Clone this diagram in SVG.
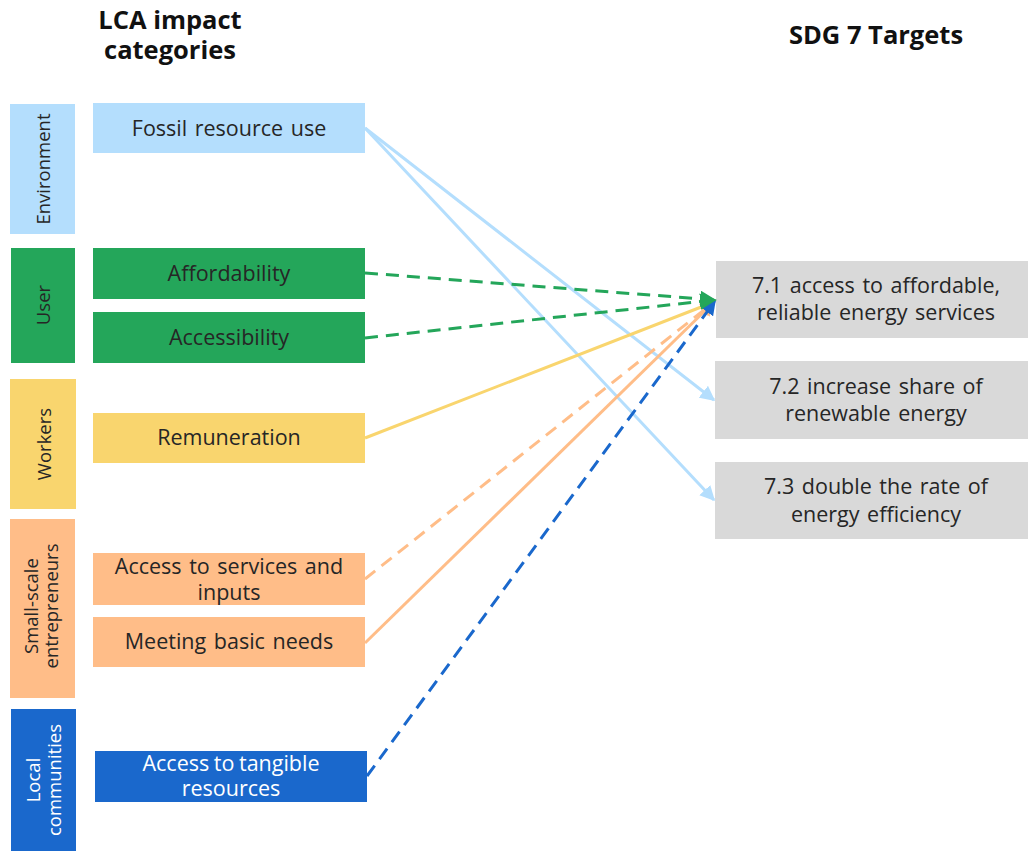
<svg xmlns="http://www.w3.org/2000/svg" width="1028" height="851" viewBox="0 0 1028 851">
  <defs>
    <style>
      text { font-family: "Open Sans", "Noto Sans", "Liberation Sans", sans-serif; fill: #262626; }
      .hdr { font-size: 25.5px; font-weight: bold; fill: #111; text-anchor: middle; }
      .lbl { font-size: 21.5px; word-spacing: 2px; text-anchor: middle; }
      .cat { font-size: 18.5px; text-anchor: middle; }
      .wht { fill: #ffffff; }
      .env { fill: #b4defd; }
      .usr { fill: #24a65a; }
      .wrk { fill: #f9d56e; }
      .sse { fill: #ffbd88; }
      .loc { fill: #1a68cc; }
      .tgt { fill: #d9d9d9; }
      .ln { fill: none; stroke-width: 3; }
      .dash { stroke-dasharray: 13 8; }
    </style>
    <marker id="ah-blue" viewBox="0 0 10 10" refX="9" refY="5" markerWidth="5" markerHeight="5" orient="auto" markerUnits="strokeWidth">
      <path d="M0,0 L10,5 L0,10 z" fill="#b4defd"/>
    </marker>
    <marker id="ah-green" viewBox="0 0 10 10" refX="9" refY="5" markerWidth="5.5" markerHeight="5.5" orient="auto" markerUnits="strokeWidth">
      <path d="M0,0 L10,5 L0,10 z" fill="#24a65a"/>
    </marker>
    <marker id="ah-yellow" viewBox="0 0 10 10" refX="9" refY="5" markerWidth="5" markerHeight="5" orient="auto" markerUnits="strokeWidth">
      <path d="M0,0 L10,5 L0,10 z" fill="#f9d56e"/>
    </marker>
    <marker id="ah-orange" viewBox="0 0 10 10" refX="9" refY="5" markerWidth="5" markerHeight="5" orient="auto" markerUnits="strokeWidth">
      <path d="M0,0 L10,5 L0,10 z" fill="#ffbd88"/>
    </marker>
    <marker id="ah-dblue" viewBox="0 0 10 10" refX="9" refY="5" markerWidth="5" markerHeight="5" orient="auto" markerUnits="strokeWidth">
      <path d="M0,0 L10,5 L0,10 z" fill="#1a68cc"/>
    </marker>
  </defs>

  <rect width="1028" height="851" fill="#ffffff"/>

  <!-- column headers -->
  <text class="hdr" x="170" y="29">LCA impact</text>
  <text class="hdr" x="170" y="59">categories</text>
  <text class="hdr" x="876" y="44">SDG 7 Targets</text>

  <!-- stakeholder categories -->
  <g id="cat-environment">
    <rect class="env" x="10" y="104" width="65" height="130"/>
    <text class="cat" transform="translate(50,169) rotate(-90)">Environment</text>
  </g>
  <g id="cat-user">
    <rect class="usr" x="11" y="248" width="64" height="115"/>
    <text class="cat" transform="translate(50,305) rotate(-90)">User</text>
  </g>
  <g id="cat-workers">
    <rect class="wrk" x="10" y="379" width="66" height="130"/>
    <text class="cat" transform="translate(51,444) rotate(-90)">Workers</text>
  </g>
  <g id="cat-entrepreneurs">
    <rect class="sse" x="10" y="519" width="65" height="179"/>
    <text class="cat" transform="translate(38,606) rotate(-90)">Small-scale</text>
    <text class="cat" transform="translate(58,606) rotate(-90)">entrepreneurs</text>
  </g>
  <g id="cat-communities">
    <rect class="loc" x="11" y="709" width="65" height="142"/>
    <text class="cat wht" transform="translate(40,780) rotate(-90)">Local</text>
    <text class="cat wht" transform="translate(61,780) rotate(-90)">communities</text>
  </g>

  <!-- impact categories -->
  <g id="imp-fossil">
    <rect class="env" x="93" y="103" width="272" height="50"/>
    <text class="lbl" x="229" y="136">Fossil resource use</text>
  </g>
  <g id="imp-affordability">
    <rect class="usr" x="93" y="248" width="272" height="51"/>
    <text class="lbl" x="229" y="281">Affordability</text>
  </g>
  <g id="imp-accessibility">
    <rect class="usr" x="93" y="312" width="272" height="51"/>
    <text class="lbl" x="229" y="345">Accessibility</text>
  </g>
  <g id="imp-remuneration">
    <rect class="wrk" x="93" y="413" width="272" height="50"/>
    <text class="lbl" x="229" y="445">Remuneration</text>
  </g>
  <g id="imp-services">
    <rect class="sse" x="93" y="553" width="272" height="52"/>
    <text class="lbl" x="229" y="574">Access to services and</text>
    <text class="lbl" x="229" y="600">inputs</text>
  </g>
  <g id="imp-basic-needs">
    <rect class="sse" x="93" y="617" width="272" height="50"/>
    <text class="lbl" x="229" y="649">Meeting basic needs</text>
  </g>
  <g id="imp-tangible">
    <rect class="loc" x="95" y="751" width="272" height="51"/>
    <text class="lbl wht" x="231" y="771" style="word-spacing:-1px">Access to tangible</text>
    <text class="lbl wht" x="231" y="796">resources</text>
  </g>

  <!-- SDG 7 targets -->
  <g id="tgt-7-1">
    <rect class="tgt" x="716" y="261" width="312" height="77"/>
    <text class="lbl" x="876" y="293">7.1 access to affordable,</text>
    <text class="lbl" x="876" y="320">reliable energy services</text>
  </g>
  <g id="tgt-7-2">
    <rect class="tgt" x="715" y="361" width="313" height="78"/>
    <text class="lbl" x="876" y="394">7.2 increase share of</text>
    <text class="lbl" x="876" y="421">renewable energy</text>
  </g>
  <g id="tgt-7-3">
    <rect class="tgt" x="715" y="462" width="313" height="77"/>
    <text class="lbl" x="876" y="494">7.3 double the rate of</text>
    <text class="lbl" x="876" y="522">energy efficiency</text>
  </g>

  <!-- connectors -->
  <g id="connectors">
    <line class="ln" stroke="#b4defd" x1="365" y1="128" x2="714" y2="400" marker-end="url(#ah-blue)"/>
    <line class="ln" stroke="#b4defd" x1="365" y1="128" x2="714" y2="500" marker-end="url(#ah-blue)"/>
    <line class="ln" stroke="#f9d56e" x1="365" y1="438" x2="714" y2="302" marker-end="url(#ah-yellow)"/>
    <line class="ln dash" stroke="#ffbd88" x1="365" y1="579" x2="714" y2="302" marker-end="url(#ah-orange)"/>
    <line class="ln" stroke="#ffbd88" x1="365" y1="643" x2="714" y2="302" marker-end="url(#ah-orange)"/>
    <line class="ln dash" stroke="#1a68cc" x1="367" y1="776" x2="715" y2="301" marker-end="url(#ah-dblue)"/>
    <line class="ln dash" stroke="#24a65a" x1="365" y1="338" x2="715" y2="300" marker-end="url(#ah-green)"/>
    <line class="ln dash" stroke="#24a65a" x1="365" y1="273" x2="715" y2="300" marker-end="url(#ah-green)"/>
  </g>
</svg>
